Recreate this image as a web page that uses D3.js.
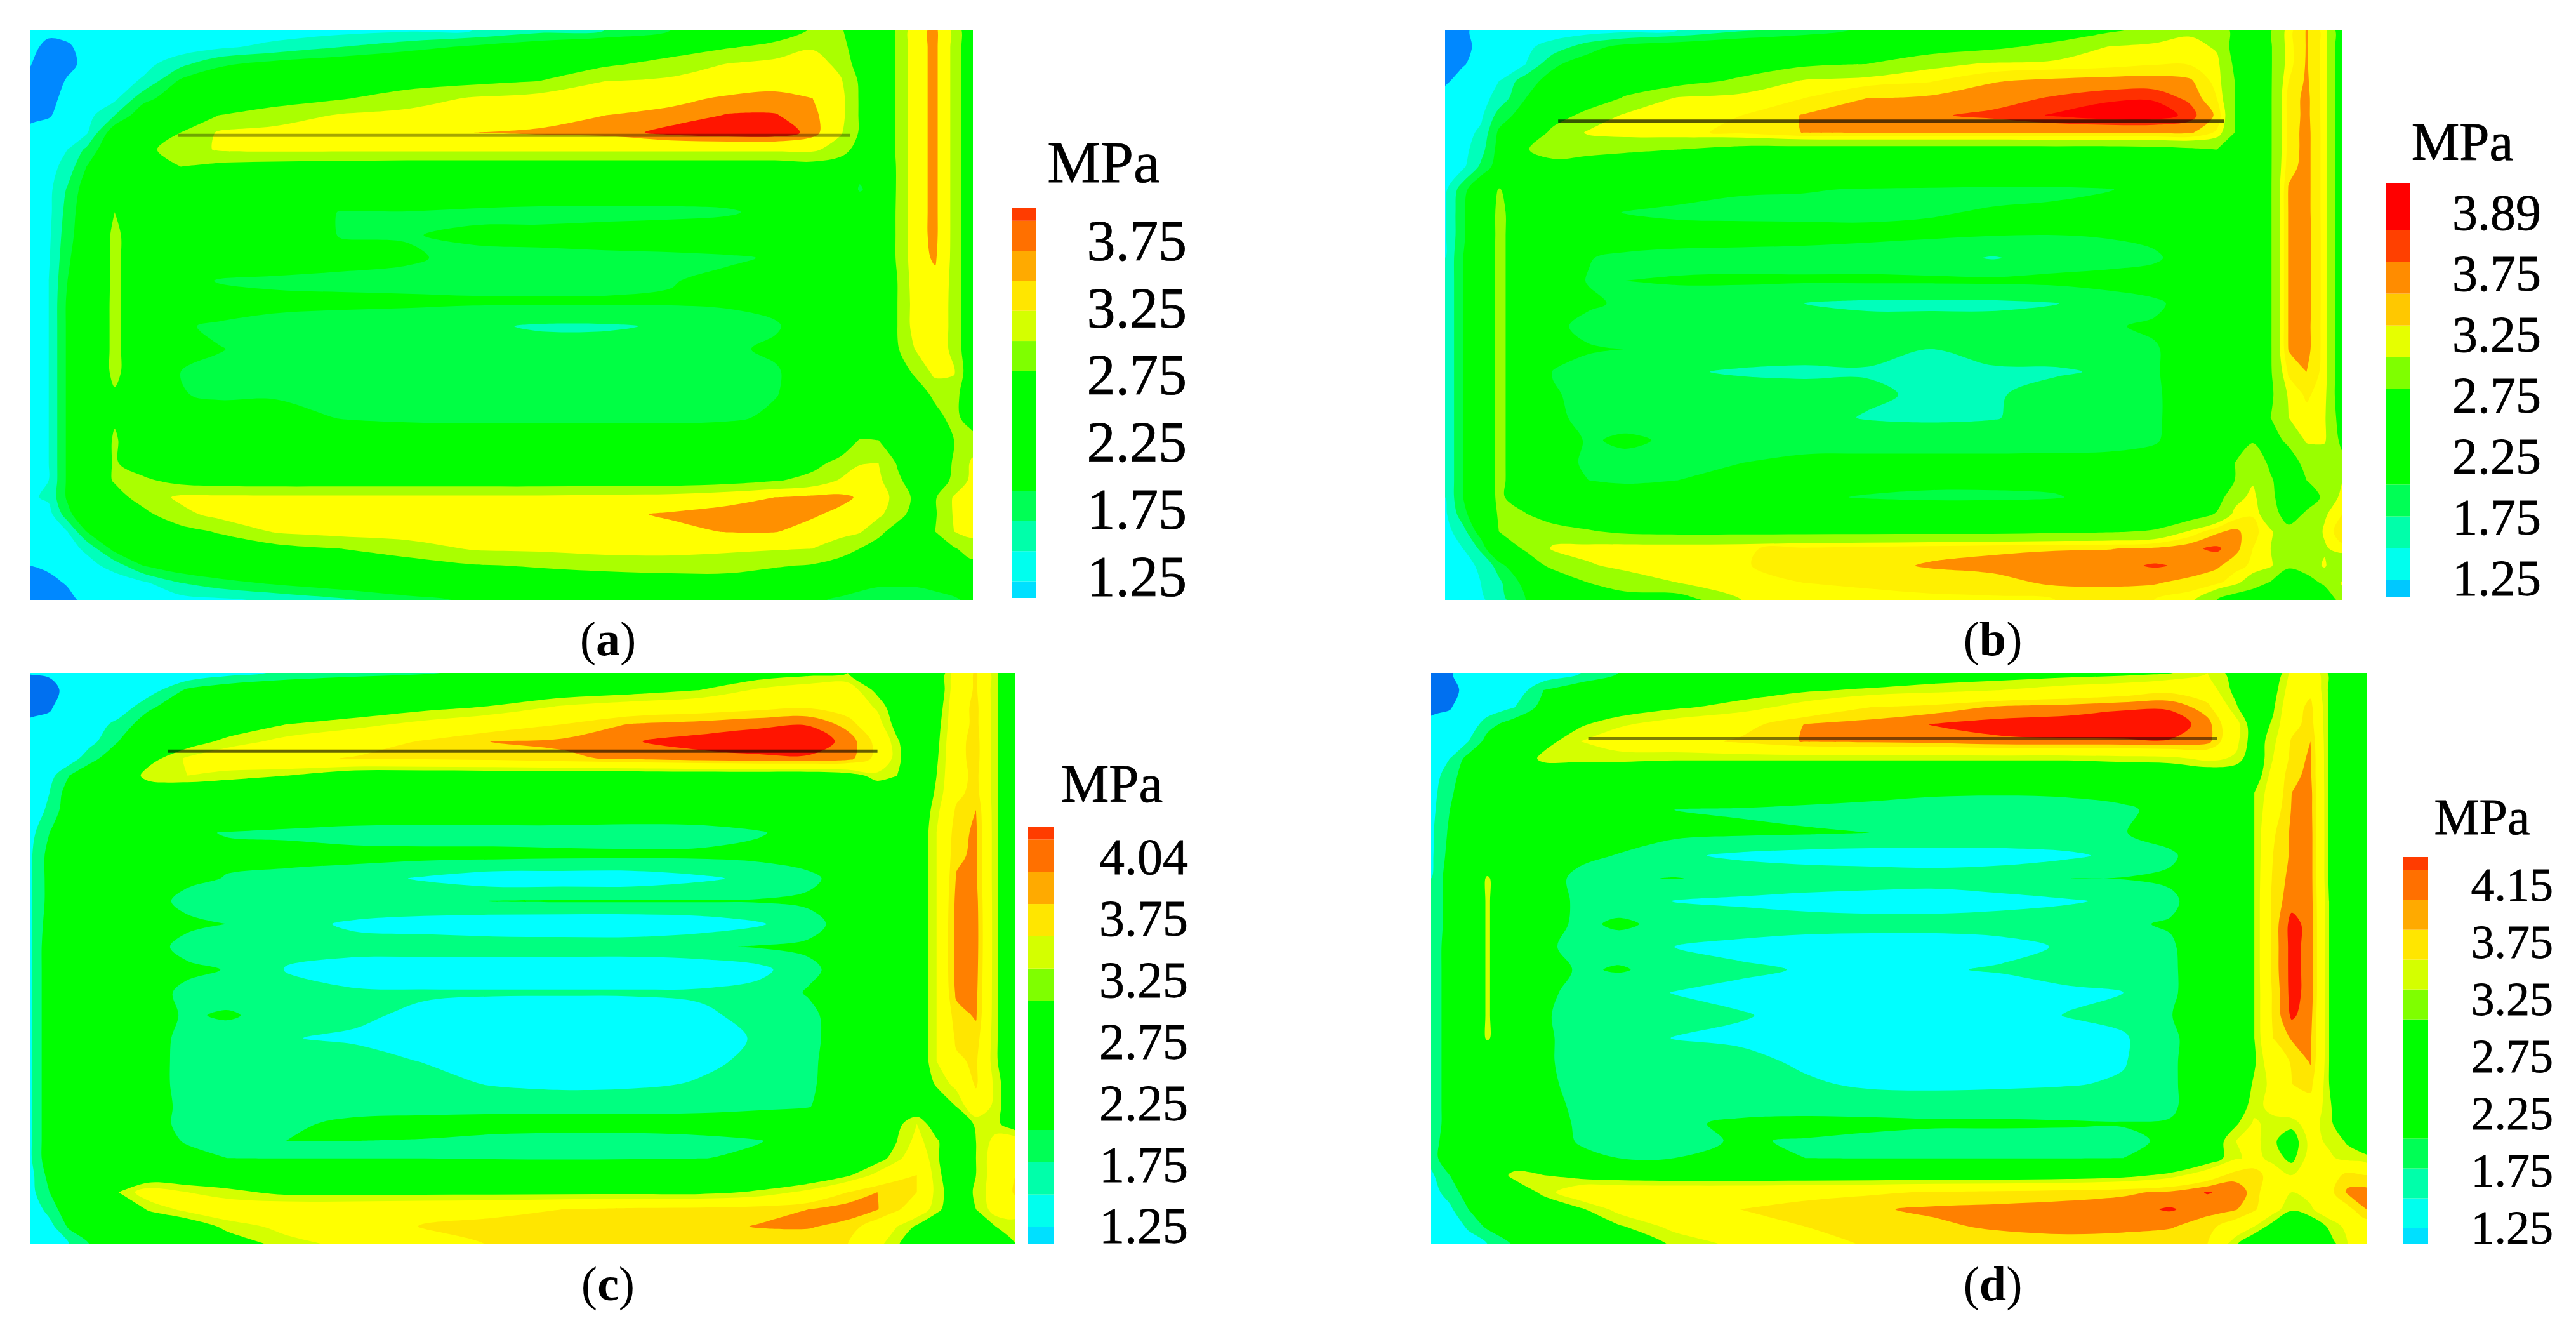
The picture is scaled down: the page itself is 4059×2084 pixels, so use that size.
<!DOCTYPE html>
<html>
<head>
<meta charset="utf-8">
<title>Stress contours</title>
<script src="https://d3js.org/d3.v7.min.js"></script>
<style>
  html, body { margin: 0; padding: 0; background: #fff; }
  text { font-family: "Liberation Serif", serif; fill: #000; }
  .lab { stroke: #000; stroke-width: 0.8px; }
</style>
</head>
<body>
<svg id="chart" width="4059" height="2084"></svg>
<script>
// sample positions across each plate, percent of width / height
var xStops = [0,2,4,6,9,12,16,20,26,33,40,47,54,61,68,74,79,83,86,88,90,92,94,96,98,100];
var yStops = [0,3,6,9,12,15,18,21,24,28,32,36,40,44,48,52,56,60,64,68,72,76,79,82,85,88,91,94,97,100];

// stress, in 0.1 MPa
var gridA = [
[13,13,13,13,13,13,13,13,13.5,14,14.5,15,16.5,17.5,20,22,24,28,28,24,24,28,36,38.5,31,22],
[13,12,12.3,13,13,13,13.5,14.5,15.8,17.5,19,20.5,22,23,24.5,27,29,32,29.5,24,24,28,36,38.5,31,22],
[12.6,11.5,12,13,13.5,14,16.8,19.5,21,22,23,23.5,24.5,26.5,29.5,32.7,34,35,31,25,24,28,36,38.5,31,22],
[12,11.5,12.7,13,13.5,15.4,20.5,22,23,24,25,26,27.5,32.5,33.5,35,36,36.5,33,26.8,24,28,36,38.5,31,22],
[11.5,12,13,13,14.4,19,22,23,25,27,30,33,34.5,35.5,36.5,38,38.5,37.5,34,27,24,28,36,38.5,31,22],
[12,12.4,13,14,17.5,22,23,27.5,30,33,34,35,36,37.5,38.5,40.2,40.2,38.5,34,27,24,28,36,38.5,31,22],
[13,13,13.8,14.6,22,23,27.5,33,34,35,36,37.5,38,38.5,41,42,42,39,33,27,24,28,36,38.5,31,22],
[13,13.5,15,18,23,26,30,33,33.5,33.5,33.5,33.5,33.5,33.5,33.5,33.5,33.5,33.5,30,25,24,28,36,38.5,31,22],
[13.5,14,16,20,23,25.5,27.5,26,25,24.5,24,24,24,24,24,24,24,25,24,21,21.5,28,36,38.5,31,22],
[13.7,14.3,17.8,21.5,23.5,24,24,23.5,23,22.5,22.5,22,22,22,22,22,22,23,23,19.7,21.5,28,36,38.5,31,22],
[13.7,14.3,18.5,22,27.5,24,23,22.5,21.5,19.9,19.9,19.6,19.3,19.3,19.3,19.6,21,23,23.5,23,23,28,36,38.5,31,22],
[13.7,14.5,19,22,28.5,24,23,22.5,21.5,19.9,19.9,20.3,20.6,21,21.5,22,22.5,23,23.5,23,23,28,36,38.5,31,22],
[13.8,14.7,19.5,22.5,28.5,24,23,22.5,21.5,20.6,20.2,19.6,19.5,19.5,19.5,19.7,20.2,22,23.5,23,23,28,36,38,31,22],
[14,15,20,22.5,28.5,24,21.5,19.8,19.6,19.6,19.6,19.6,19.6,19.6,19.9,20.5,21.5,22.5,23.5,23,23,27.5,35.5,36.5,31,22],
[14,15,20.5,23,28.5,24,22.5,21.5,20.6,20.4,20.3,20.2,20.2,20.2,20.2,20.3,20.5,21.5,23.5,23,23,27.5,35,36,31,22],
[14,15,20.5,23,28.5,24,20.3,19.6,19.2,19,18.8,18,17.2,17.2,17.8,19,19.8,21,23.5,23,23,27.5,35,36,31,22],
[14,15,20.5,23,28.5,24,20.5,20.1,19.3,19,19,18.8,18.6,18.6,18.8,19.7,20.3,21.5,23.5,23,23.5,27,33,36,31,22],
[14,15,20.5,23,28.5,24,20,19.6,19.2,19,19,19,19,19,19,19.2,19.8,21,23,23,23,25,28.5,34,33,22],
[14,15,20.5,23,27,24,20.1,19.7,19.8,19.1,19,19,19,19,19,19.2,19.9,21,23,23,23,24,25,28.5,29.5,22.5],
[14,15,20.5,23,27,25,22,21,20.8,19.9,19.6,19.5,19.5,19.5,19.5,19.6,20.4,21.5,23,23,23,24,24,26,29,24.5],
[14,15,20.5,23,28,24,23,22.5,22,21.5,21.5,21.5,21.5,21.5,21.5,22,22.5,23,24,27.8,27.5,25,24,24,27.5,29.5],
[14.2,15,20.5,23,28,24.5,24,23.5,23,23,23,23,23,23,23.5,24,24.5,26,29,32,32.5,27,24,24,28,33.5],
[14.3,15,20.5,23,28,28.5,25.5,24.5,24,24,24,24,24,24,24,25,27,29,33,36,33.5,28.5,24.5,24.5,28.5,34],
[14.5,15.5,20.5,23,25.5,29.5,33.5,33.5,33.5,33.5,33.5,33.5,33.5,34,34.5,36,37.5,38.5,38.5,37,34.5,31,26,27,33,35],
[13.5,14,19,23,24,26,31,34,35,35,35,35,35,36.5,38,39,39,38,36.5,35,33.5,29.5,25,27,33,35],
[13,13.7,15,20,23,24,25.5,28,33,34.5,35,35,35,35.5,36.5,37.7,37.7,36,34,33,29,25,24,27.5,32.5,34],
[12.7,13.2,14,15.5,21,22,23,24,25.5,27.5,30,33,33.5,34.5,34.5,33.5,33,32.5,30,27.5,25,24,24,24.5,27,30],
[12.5,12.7,13,14,16,20,22,23,23.5,24,25,27,28,29,29.5,29.5,28,27,25,24,23,22.5,23,23,24,26],
[11.8,12.2,12.6,13,13.5,14.5,17.5,19,20.5,22,23,23.5,24,24.5,25,25,24,23,22,21,20.5,20.5,20.5,21,22,23],
[11.5,11.9,12.2,12.8,13,13.5,14,14.5,15.5,17,19,20.5,22,23,23.5,23.5,22,20.5,19.5,19,18.5,18.5,18.5,19,19.5,21]
];

var gridB = [
[11.5,12.2,13,13,13,13.5,13.5,14,15,17,18.5,20.5,22,23,24,26.5,29,31.5,31,26,24,27,34,37.7,34,23],
[12,12,13,13.5,14.5,16,19,21,22,23,23.5,24,24.5,26.5,29,32.7,33.5,34,32,25.5,24,27,34,37.7,34,23],
[11.5,12.4,13,14,15,19.5,21.5,22.5,23.5,24.5,26.5,27.5,31.5,33,33.5,34,34.8,34.8,33.5,26.5,24,27,34,37.8,34,23],
[12.3,13,13.5,15,19,21,22.5,24,25.5,28.5,33,34,34.8,37.3,38.2,38.7,38.8,38,34,27.5,24,27,35,38,34,23],
[13,13.5,14,16,20,22,24,28,33,34,35,37.5,38,39,40.3,41.2,41.3,39.5,35,27.5,24,27,36,38.3,34,23],
[13.3,13.8,14.5,18.5,21.5,24.5,29.5,33,33.5,35,37.7,38.2,39.7,40.5,41.7,42.5,42.5,41,37,27.5,24,27,36,38.3,34,23],
[13.5,14,15.5,20.5,22,29,33,34,34.5,35.5,37.6,37.8,37.7,37.8,38,38,38,38,34.5,27.5,24,27,36,38.5,34,23],
[13.7,14.2,16.5,21,27,31,29.5,28.5,27.5,25.5,25,25,25,25,25,25,25.5,26.5,27.5,24.5,24,27,36,38.5,34,23],
[14,14.5,18,21.5,25,24.5,24,23.5,23,23,22.5,22.5,22.5,22.5,22.5,23,23,23,23.5,23.5,23.5,27,36.5,38.5,34,23],
[14.5,19,23,27.8,24,23.5,23,22.5,21,20.2,20.1,19.9,19.8,19.7,19.7,19.9,20.8,22.5,23,23,23,27,37.8,38.5,34,23],
[14.7,19.5,23.5,28.5,24.5,23.5,21,19.9,19.5,19.5,19.5,19.6,19.9,20.1,20.3,21,22,22.5,23,23,23,27,37.8,38.5,34,23],
[14.7,19.5,23.5,28.5,24.5,23.5,22.5,21.5,21,20.8,20.7,20.5,20.3,20.1,20,20.2,20.8,22,23,23,23,27,37.8,38.7,34,23],
[15,20,24,28.5,24.5,22.5,20.1,19.5,19.3,19.3,19.2,19,18.6,17.3,18.6,19,19.5,21.5,23,23,23,27,37.8,38.7,34,23],
[15,20,24,28.5,24.5,21,19.9,20,20.2,20.3,20.3,20.4,20.4,20.5,20.7,21,21.5,22.5,23,23,23,27,37.8,38.7,34,23],
[15,20,24,28.5,24.5,22,20.3,19.7,19.2,18.7,17.5,17,17,17,17.4,18.7,19.5,21,23,23,23,27,37.8,38.7,34,23],
[15,20,24,28.5,24.5,20.5,19.4,19.4,19,18.7,18.5,18.5,18.5,18.5,19,19.8,20.3,21.5,23,23,23,27,37.8,38.5,34,23],
[15,20,24,28.5,24.5,21.5,20.2,20,19.3,19,18.7,18.2,17.5,18,18.6,19.3,19.8,21,23,23,23,27,37.7,38.5,34,23],
[15,20,24,28.5,24.5,19.9,19.3,19,17.8,17.2,17,17.3,17.3,17.3,17.2,17.8,19.8,21,23,23,23,27,35.5,37.5,34,23],
[15,20,24,28.5,24.5,20.2,19.4,19.2,19,18.8,18.6,18,17,17.2,18.5,19,19.7,21,23,23,23,26.5,33,35.5,33.5,23],
[15,20,24,28.5,24.5,20.3,19.6,19.3,19,18.8,18.5,17.3,17,17.3,18.7,19,19.7,21,23,23,23,27.5,32.5,34,33,24.5],
[15,20,24,28.5,24.5,21,19.8,20.3,19.7,19.4,19.2,19.3,19.3,19.3,19.4,19.5,19.8,21,23,25.5,27,25.5,28.5,33,33,26],
[15,20,24,28.5,24.5,21,19.6,19.5,19.7,20,20.5,20.5,20.5,20.5,20.5,20.5,20.8,21.5,23,27.5,31,26.5,25,29,29.5,29],
[15,20,24,28.5,24.5,22,20,19.6,20,21,21.3,21,20.7,20.7,20.7,21,21.5,22.5,24,27.5,32,28,24.5,27.5,28,32.5],
[15,20,23.5,28.5,24,23,22,21.5,21,20.8,20.5,19.8,19.5,19.5,19.8,21,22,23,25,31,33.5,28.5,24.5,26,28,34],
[14.5,19,23,28,27.8,24,23.5,23,22.5,22.5,22.5,22.5,22.5,22.5,22.5,23,23.5,24.5,28,33.5,34.8,29,26,28,32,35],
[14,16.5,21.5,27.5,32,30.5,28,26.5,26,26,26,26,26,26,26.5,27,28,33,37,38.2,36,33,28.5,28.5,33,37],
[13.5,15,18,25,28,33,34,34.5,34.5,34.8,35.5,36,36.5,37,37.3,37.4,38,39.5,40.5,38.5,35,32.5,30,30,32,34],
[13,14,15.5,18.5,25,28.5,32,33.5,34,34.8,36,36.5,37.8,38.3,38.8,39,40.3,39.5,38,36,34.5,33,28,30,33,28],
[13,14,15,17,21,24,27.5,30,32.5,34,35,35.5,35.8,36.5,38,38.2,37.8,36.5,35.5,33.5,30,27,25,25,28.5,33],
[12.7,13.2,14.5,16.5,20,22,24,25,24.5,32.5,34,34,34.5,34.5,35,35.2,35,33.5,27.5,24,23,22,22,22,23,30]
];

var gridC = [
[12.6,12.7,13,13,14,14.5,15,16.5,18,19,19.7,21,22.5,23.5,24.5,25.5,26.5,27.5,26,23.5,23.5,24,32,35.5,28,23],
[11.5,12,13,13.5,14.5,16,20.5,22,23,23.5,24,24.5,25,26,27.5,30.5,32,32,26.5,23.5,23.5,24,32.5,35.5,28,23],
[12,12.3,13.5,14.5,15.5,19.5,22,23,24,25,26.5,27.8,30.5,32,33,34,34.7,33,29.5,25,23.5,25,33,36,28,23],
[12.8,13,14,15.5,18.5,21.5,23,24.5,27.5,29,31,33,35,37.7,38.5,39.5,39.8,36.5,31.5,26,23.5,26,33,36,28,23],
[13.5,14,15,16.5,20,22.5,25.5,28.5,31,33,35.3,37.6,38,39.8,41,41.5,42,39,34,28,23.5,26.5,33.5,36.5,28,23],
[14,15,16,19,22,26,30.5,32.5,34,35.3,35.5,36,37,38,39,39.5,39.5,38.5,34,28.5,23.5,27,33.5,36.5,28,23],
[15,16.5,20,22,23,29,30,29,27.5,24,24,24,24,24,24,24,24,25.5,29,27.5,23.5,27.5,33.5,36,28,23],
[15.5,17.5,21.5,23,23.5,24,23.5,23,23,23,23,23,23,23,23,23,23,23.5,24,24,24,28,34,36.3,28,23],
[16,18,22,23,23,23,23,23,22.5,22.5,22.5,22.5,22.5,22,22,22,22.5,23,23.5,24,24,29,35.5,37.5,28,23],
[16.5,20,22.5,23,23,23,20.3,19.9,19.5,18.9,18.8,18.8,18.8,18.8,19,19.8,21,22,23.5,24,24,30,36.5,38,28,23],
[17,21,23,23,23,22.5,20.4,20.4,21,20.9,20.8,20.8,20.6,20.5,20.5,20.7,21,22.5,23.5,24,24,30,37,38,28,23],
[17,21,23,23,23,22,20.5,19.9,19.2,18.5,17.2,16,16,16,17,18.2,19.5,21,23.5,24,24,30,37.7,38,28,23],
[17,21,23,23,23,21,19.3,19.3,19.5,19.7,19.7,20.1,20.2,20.2,20.2,20.2,20.4,21.5,23.5,24,24,30,38.2,38.5,28,23],
[17,21.5,23,23,23,21.5,20.5,20,18.5,17,16.3,15.7,15.5,15.5,16,17.2,19.2,21,23.5,24,24,30,38.5,38.7,28,23],
[17,22,23,23,23,21,19.2,18.8,18,18.5,19,19,19,19,19.7,20.2,20.4,21.5,23.5,24,24,30,38.5,38.7,28,23],
[17,22,23,23,23,22,20.5,19.9,17.4,16.3,15.6,15.5,15.5,15.5,15.6,16.7,19.5,21,23.5,24,24,30,38.5,38.5,28,23],
[17,22,23,23,23,21,19.4,19,18.2,17.8,17.8,17.8,17.8,17.8,17.9,18.5,20.2,22,23.5,24,24,30,38,38.2,28,23],
[17,22,23,23,23,21,19.7,20.3,19,17.9,17,16,15.8,16,17,18.3,19.4,21.5,23.5,24,24,30,36.5,37.8,28,23],
[17,22,23,23,23,21,19.3,18.9,17.6,17.2,16.7,16.3,16,16,16.7,17.7,19.3,21.5,23.5,24,24,30,35.5,36.5,28,23],
[17,22,23,23,23,21,19.2,19,18.8,18.3,17.4,16.6,16.3,16.3,17,18,19.5,21.5,23.5,24,24,30,34.5,35.5,28,23],
[17,22,23,23,23,21,19.2,19,18.8,18.7,18.4,17.3,16.8,17,17.7,18.5,19.6,21.5,23.5,24,24,28,31,35.5,29,23.5],
[17,22,23,23,23,21,19.4,19.2,19.2,19.2,19.3,19.4,19.4,19.4,19.4,19.6,19.9,21.5,23.5,24,24,24.5,27.5,33,29,23.5],
[17,22,23,23,23,21,19.3,19.3,19.6,20.5,20.7,20.8,20.8,20.8,21,21.5,22,23,24,26.5,30,25,24.5,28,28.5,24.5],
[17,22,23,23,23,21.5,19.7,19.4,20,20,19.9,19.5,19.3,19.3,19.5,19.9,21,22.5,25,27.5,31,28,24,27.5,31,32],
[17,22,23,23,23,22.5,21,20,19.9,19.9,19.9,19.7,19.6,19.7,19.9,20.5,21.5,23,26,29,33,28,24,27.5,32,33.5],
[16.5,21,22.5,23,24,24,24,24,24,24,24,24,24,24,24,24,24,27,31,34,35,28.5,24.5,27.5,32,35],
[16.5,20,22,23,27.5,32,30,28.5,26.5,26.5,26.5,26.5,26.5,26.5,26.5,28,31,35,37.5,37,35,29,25,28,32,35.5],
[15.5,18.5,22,23,24,27.8,31,32.5,33,33,33.5,34,35,35.7,36,36.5,37.5,39,37.6,35.5,32.5,28.5,24.5,27.5,31.5,32.5],
[15,16.5,20.5,22.5,23,24,24.5,28.5,31,32,35.3,36,36,36,36.5,37.7,37.8,36.5,33,30,27,24,23.5,24,27.5,28],
[14,15,17.5,20,21,22,23,25,29,31,33,35.3,35.5,35.5,35.5,35.5,35.5,35,31,28,24,23,23,23,26,27.5]
];

var gridD = [
[12,12.4,13,13.5,14,15,17.5,20,22,23,23.5,24,25,25.5,26,26.5,27.3,30,26,23.5,24,31,33,27,23.5,23.5],
[11.5,12,13,14,15.5,20,22,23,24.5,26,27,28,29,30,31.5,32.5,34,32,26.5,23.5,26,32,34,27,23.5,23.5],
[12,12.3,14,15.5,17.5,21,24,25,27,28.5,31.5,35,36,38,38.5,39.5,39.5,36,28,24,27,33,36,27,23.5,23.5],
[13,13.5,15.5,19,21.5,24,27,29.5,31.5,33.5,37.6,38.5,40.2,41,41.5,42,42,38.5,31.5,25,28,33.5,36.5,27,23.5,23.5],
[14,15,17.5,21,23,26,30,32,33.5,35.5,37.7,38,38.5,39.5,39.6,39.6,39.7,38.5,31,25.5,29,35.5,37.5,27,23.5,23.5],
[15.2,17.5,21,22.5,24,28.5,28.5,28.5,28,28,28,28,28,28,28,28.5,29,31,29.5,24.5,30,36,38,27,23.5,23.5],
[16,19,21.5,22.5,23,24,23.5,23.5,23.5,23.5,23.5,23.5,23.5,23.5,23.5,23.5,23.5,24,24,25,31.5,37,38,27,23.5,23.5],
[16.5,19.5,22,23,23,23,23,23,22.5,22.5,22,21,20.3,20.2,20.3,21,22,23,23.5,27.5,32,37.5,38.5,27,23.5,23.5],
[16.7,20,22,23,23,23,22.5,21,20,19.7,19.2,19,19,19,19.2,19.5,21,22.5,23.5,27.5,33,37.7,38.5,27,23.5,23.5],
[17,20.5,22.5,23,23,23,21,21,20.8,20.5,20.3,20,19.8,19.6,19.6,19.9,21,22.5,23.5,27.5,34.5,38,38.7,27,23.5,23.5],
[17,21,23,23,23,22,20.5,19.9,18,17,16.5,16.3,16.3,16.5,17,18.2,19.6,21.5,23.5,27.5,35,38,38.7,27,23.5,23.5],
[17.5,21.5,23,28,23,21,19.4,19.7,20.1,19.4,19,18.8,18.5,18.8,20,20.1,20.4,22,23.5,27.5,35.5,38.5,38.7,27,23.5,23.5],
[17.5,21.5,23,28,23,21,19.6,19.2,17.4,17,16.6,16.3,16.3,16.8,17.2,18,19.5,21.5,23.5,27.5,36,39,38.8,27.5,23.5,23.5],
[17.5,21.5,23,28,23,20.8,19.6,20.3,19.5,19,18.6,18.5,18.5,18.5,19,19.7,20.2,21.5,23.5,27.5,36,41,39,27.5,23.5,23.5],
[17.5,22,23,28,23,20.3,19.5,19.2,17.5,16.7,16.2,16,16,16.7,17.8,19,19.7,21.5,23.5,27.5,36,41,39,27.5,23.5,23.5],
[17.5,22,23,28,23,21,19.7,20.2,19.3,18,17.3,17,17.2,17.8,18.6,19.2,19.6,21.5,23.5,27.5,36,41,39,27.5,23.5,23.5],
[17.5,22,23,28,23,20.5,19.3,18.7,17.4,16.8,16.2,16,16,16,17,17.5,19.6,21.5,23.5,27.5,35.5,41,39,27.5,23.5,23.5],
[17.5,22,23,28,23,20.2,19.3,19,18.6,17.7,16.8,16,16,16.4,17.6,18.2,19.9,21.5,23.5,27.5,35.5,40.5,38.5,27.5,23.5,23.5],
[17.5,22,23,28,23,20.3,19.3,18.9,17.4,17,16.5,16,16,16,16.5,17.2,19.5,21.5,23.5,27.5,35,37.8,38,27.5,23.5,23.5],
[17.5,22,23,23,23,20.3,19.3,19.2,19,18.3,17,16.3,16,16,16.5,17.3,19.6,21.5,23.5,27,33,35.3,37.8,27.5,23.5,23.5],
[17.5,22,23,23,23,20.5,19.3,19.2,19.2,18.8,17.9,17,16.8,17,17.3,17.8,19.6,21.5,24,28,31,35,36,27.5,23.5,23.5],
[17.5,22,23,23,23,21,19.4,19.2,19.2,19.4,19.4,19.2,19.2,19.2,19.2,19.3,19.6,21.5,25,29,31,33,33.5,28,24,23.5],
[17.5,22,23,23,23,21.5,19.5,19.3,19.7,20.3,20.5,20.5,20.3,20.3,20.2,20.1,20.2,22,27,30.5,29,28.5,32,28,25.5,24],
[18,22.5,23,23,23,21.5,19.7,19.3,19.7,20.1,19.9,19.5,19.2,19.2,19.3,19.6,20.3,24,30,31,28,25.5,31,29.5,27,25.5],
[18.5,22.5,23,23,23,22.5,20.7,20,20,20,20,19.9,19.9,19.9,19.9,20,21,25,29.5,31,29,26.5,31.5,30.5,29,28],
[17,20,22,23,29,27.5,26,25,24.5,24.5,24.5,24.5,24.5,24.5,25,26,28.5,32.5,36.5,37.5,32,30,31,33,36,35],
[16.5,18.5,21.5,23,24,28.5,33,33.5,33.5,33.5,34,34.5,35.3,35.8,36.3,37,38,40.2,39,36.5,31.5,30,31,34,38,38.5],
[15,17,20,22,23,24,27,31,33,35,36,37.2,38,38.3,38.7,39,40.3,38.5,37.7,35.5,31.5,27.8,29.5,32.5,34,37.5],
[14.5,15.5,18,20.5,22,23,24,27,31,33,35,36.5,37,38,38.5,38.3,37.8,36,33,30,26,24,24.5,28,31,33],
[14,14.5,16,17.5,20.5,22,23,24.5,28,31,34,35.3,35.8,36,36.3,36,35.5,35,28,24,23.5,23,23,26,30,31]
];

// contour levels per panel, same unit as the grids
var levelsA = [0,12.5,15,17.5,20,27.5,32.5,37.5,40];
var levelsB = [0,12.5,15,17.5,20,27.5,32.5,35,37.5,40,41.5];
var levelsC = [0,12.5,17.5,20,27.5,30,35,37.5,40,42];
var levelsD = [0,12.5,17.5,20,27.5,30,35,37.5,40];

// crack line: from, to (percent of width), height (percent)
var crackA = [15.7,87,18.5];
var crackB = [12.6,86.8,16];
var crackC = [14,86,13.7];
var crackD = [16.8,84,11.5];

// colour bar edges in MPa, bottom to top
var barEdgesA = [1.11,1.25,1.5,1.75,2,3,3.25,3.5,3.75,4,4.25,4.36];
var barEdgesB = [1.12,1.25,1.5,1.75,2,2.75,3,3.25,3.5,3.75,4,4.37];
var barEdgesC = [1.12,1.25,1.5,1.75,2,3,3.25,3.5,3.75,4,4.25,4.35];
var barEdgesD = [1.12,1.25,1.5,1.75,2,3,3.25,3.5,3.75,4,4.25,4.36];

var ticksA = ["3.75","3.25","2.75","2.25","1.75","1.25"];
var ticksB = ["3.89","3.75","3.25","2.75","2.25","1.75","1.25"];
var ticksC = ["4.04","3.75","3.25","2.75","2.25","1.75","1.25"];
var ticksD = ["4.15","3.75","3.25","2.75","2.25","1.75","1.25"];

// fill colours, one per level
var fillA = ["#0088ff","#00ffff","#00ffbb","#00ff44","#00ff00","#aaff00","#ffff00","#ff9000","#ff1500"];
var fillB = ["#0088ff","#00ffff","#00ffbb","#00ff44","#00ff00","#99ff00","#ffff00","#fff000","#ff8c00","#ff3000","#ff0000"];
var fillC = ["#0070f0","#00ffff","#00ff80","#00ff00","#d4ff00","#ffff00","#ffe600","#ff8000","#ff1400","#ff0000"];
var fillD = ["#0070f0","#00ffff","#00ff80","#00ff00","#d4ff00","#ffff00","#ffe600","#ff8000","#ff1400"];

var barFill = ["#00e0ff","#00ffee","#00ffaa","#00ff55","#00ff00","#7fff00","#d4ff00","#ffe600","#ffaa00","#ff7000","#ff3c00"];
var barFillB = ["#00c8ff","#00ffee","#00ffaa","#00ff55","#00ff00","#7fff00","#e6ff00","#ffc800","#ff8c00","#ff4000","#ff0000"];

var panels = [
  { name: "a", grid: gridA, levels: levelsA, fill: fillA, crack: crackA, crackOp: 0.35,
    edges: barEdgesA, ticks: ticksA, barFill: barFill,
    box: [47,1533,47,945], bar: [1595,1633,327,942],
    title: [1739,287,94], tick: [1870,380,909,90], cap: [958,1032] },
  { name: "b", grid: gridB, levels: levelsB, fill: fillB, crack: crackB, crackOp: 0.65,
    edges: barEdgesB, ticks: ticksB, barFill: barFillB,
    box: [2277,3691,47,945], bar: [3759,3797,288,940],
    title: [3880,252,85], tick: [4004,336,912,80], cap: [3140,1032] },
  { name: "c", grid: gridC, levels: levelsC, fill: fillC, crack: crackC, crackOp: 0.6,
    edges: barEdgesC, ticks: ticksC, barFill: barFill,
    box: [47,1600,1060,1959], bar: [1620,1661,1302,1959],
    title: [1752,1263,85], tick: [1872,1351,1932,80], cap: [958,2048] },
  { name: "d", grid: gridD, levels: levelsD, fill: fillD, crack: crackD, crackOp: 0.5,
    edges: barEdgesD, ticks: ticksD, barFill: barFill,
    box: [2255,3729,1060,1959], bar: [3786,3826,1350,1959],
    title: [3911,1314,80], tick: [4023,1395,1935,74], cap: [3140,2048] }
];

var svg = d3.select("#chart");

// grid index -> percent, grid is not evenly spaced. Not clamped: rings run just outside the box and get clipped
var colToPct = d3.scaleLinear().domain(xStops.map(function (d, i) { return i + 0.5; })).range(xStops);
var rowToPct = d3.scaleLinear().domain(yStops.map(function (d, i) { return i + 0.5; })).range(yStops);

panels.forEach(function (p) {
  var g = svg.append("g").attr("class", "panel-" + p.name);

  var x = d3.scaleLinear().domain([0, 100]).range([p.box[0], p.box[1]]);
  var y = d3.scaleLinear().domain([0, 100]).range([p.box[2], p.box[3]]);

  p.grid.forEach(function (row, i) {
    if (row.length !== xStops.length) throw new Error(p.name + " row " + i + " has " + row.length);
  });
  if (p.grid.length !== yStops.length) throw new Error(p.name + " rows " + p.grid.length);

  var contours = d3.contours()
    .size([xStops.length, yStops.length])
    .thresholds(p.levels)(d3.merge(p.grid));

  g.append("clipPath")
    .attr("id", "clip-" + p.name)
    .append("rect")
    .attr("x", p.box[0])
    .attr("y", p.box[2])
    .attr("width", p.box[1] - p.box[0])
    .attr("height", p.box[3] - p.box[2]);

  // round off the marching-squares corners
  var ringLine = d3.line()
    .x(function (d) { return x(colToPct(d[0])); })
    .y(function (d) { return y(rowToPct(d[1])); })
    .curve(d3.curveCatmullRomClosed.alpha(0.5));

  function bandPath(d) {
    return d.coordinates.map(function (polygon) {
      return polygon.map(function (ring) { return ringLine(ring.slice(0, -1)); }).join("");
    }).join("");
  }

  g.append("g")
    .attr("clip-path", "url(#clip-" + p.name + ")")
    .selectAll("path")
    .data(contours)
    .enter()
    .append("path")
    .attr("d", bandPath)
    .attr("fill-rule", "evenodd")
    .attr("fill", function (d, i) { return p.fill[i]; });

  // crack
  g.append("line")
    .attr("x1", x(p.crack[0]))
    .attr("x2", x(p.crack[1]))
    .attr("y1", y(p.crack[2]))
    .attr("y2", y(p.crack[2]))
    .attr("stroke", "#000")
    .attr("stroke-width", 5)
    .attr("stroke-opacity", p.crackOp);

  // colour bar
  var barY = d3.scaleLinear()
    .domain([p.edges[0], p.edges[p.edges.length - 1]])
    .range([p.bar[3], p.bar[2]]);

  g.append("g")
    .selectAll("rect")
    .data(d3.pairs(p.edges))
    .enter()
    .append("rect")
    .attr("x", p.bar[0])
    .attr("width", p.bar[1] - p.bar[0])
    .attr("y", function (d) { return barY(d[1]); })
    .attr("height", function (d) { return barY(d[0]) - barY(d[1]); })
    .attr("fill", function (d, i) { return p.barFill[i]; });

  g.append("text")
    .attr("class", "lab")
    .attr("x", p.title[0])
    .attr("y", p.title[1])
    .attr("text-anchor", "middle")
    .style("font-size", p.title[2] + "px")
    .text("MPa");

  // labels are evenly spaced, they do not follow the bar edges
  var tickY = d3.scalePoint().domain(p.ticks).range([p.tick[1], p.tick[2]]);
  g.append("g")
    .selectAll("text")
    .data(p.ticks)
    .enter()
    .append("text")
    .attr("class", "lab")
    .attr("x", p.tick[0])
    .attr("y", function (d) { return tickY(d); })
    .attr("dy", "0.33em")
    .attr("text-anchor", "end")
    .style("font-size", p.tick[3] + "px")
    .text(function (d) { return d; });

  var cap = g.append("text")
    .attr("x", p.cap[0])
    .attr("y", p.cap[1])
    .attr("text-anchor", "middle")
    .style("font-size", "76px");
  cap.append("tspan").text("(");
  cap.append("tspan").style("font-weight", "bold").text(p.name);
  cap.append("tspan").text(")");
});
</script>
</body>
</html>
